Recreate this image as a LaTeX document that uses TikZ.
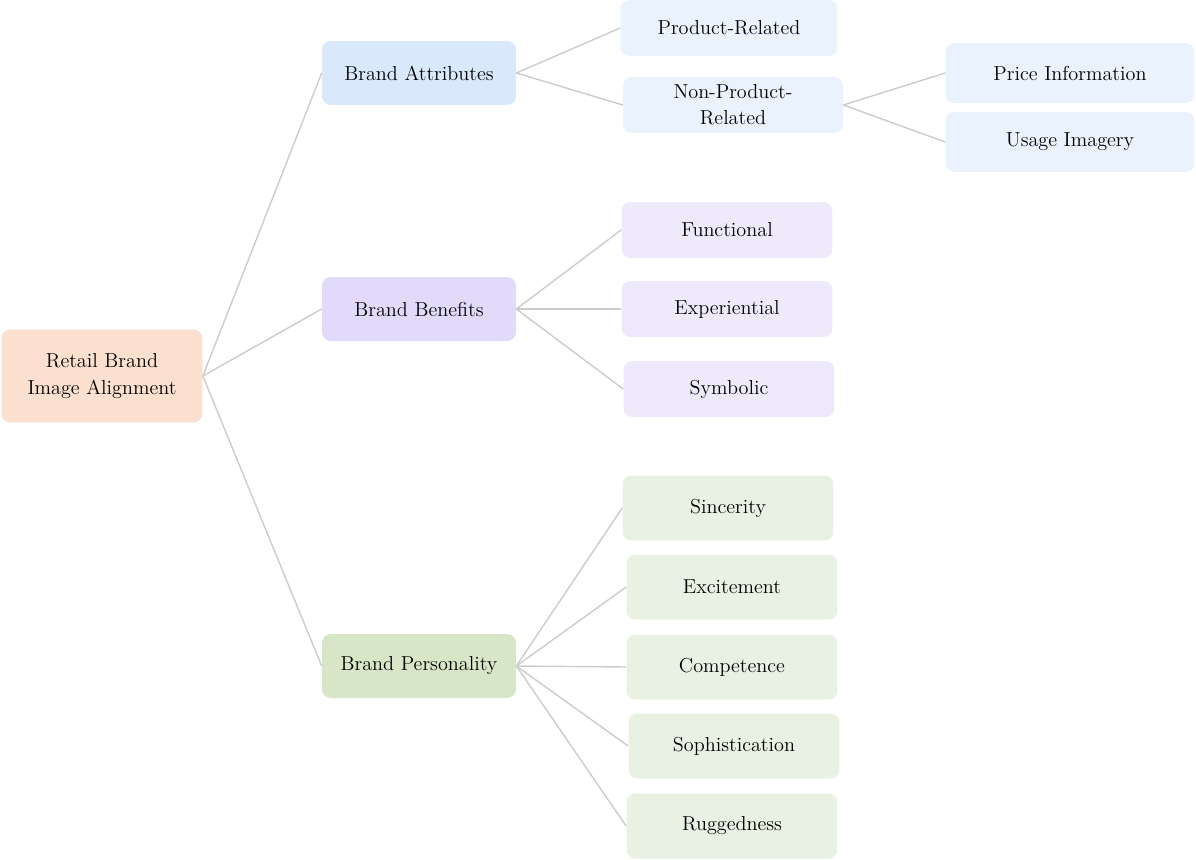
\documentclass[tikz,border=0pt]{standalone}
\usepackage{tikz}

\definecolor{rootfill}{HTML}{FBE0D0}
\definecolor{attrfill}{HTML}{D9E8FB}
\definecolor{attrleaf}{HTML}{EAF2FD}
\definecolor{benfill}{HTML}{E2DAFB}
\definecolor{benleaf}{HTML}{EEEAFC}
\definecolor{persfill}{HTML}{D8E6C8}
\definecolor{persleaf}{HTML}{E9F1E3}
\definecolor{linkgray}{HTML}{CCCCCC}

\begin{document}
\begin{tikzpicture}[x=0.02cm,y=-0.02cm,
  box/.style={rectangle,rounded corners=5pt,align=center,inner sep=0pt,
    font=\fontsize{11.5}{15}\selectfont},
  mainbox/.style={box,minimum width=3.88cm,minimum height=1.28cm},
  leafbox/.style={box,minimum width=4.22cm,minimum height=1.12cm},
  farbox/.style={box,minimum width=4.98cm,minimum height=1.2cm},
  link/.style={draw=linkgray,line width=0.8pt}]
\useasboundingbox (0,0) rectangle (1196,859);

% Root
\node[box,fill=rootfill,minimum width=4.02cm,minimum height=1.86cm] (root) at (102,376) {Retail Brand\\Image Alignment};

% Dimensions
\node[mainbox,fill=attrfill] (attr) at (419,73) {Brand Attributes};
\node[mainbox,fill=benfill] (ben) at (419,309) {Brand Benefits};
\node[mainbox,fill=persfill] (pers) at (419,666) {Brand Personality};

% Attributes
\node[leafbox,fill=attrleaf,minimum width=4.34cm] (prod) at (729,28) {Product-Related};
\node[leafbox,fill=attrleaf,minimum width=4.4cm] (nonprod) at (733,105) {Non-Product-\\Related};
\node[farbox,fill=attrleaf] (price) at (1070,73) {Price Information};
\node[farbox,fill=attrleaf] (usage) at (1070,142) {Usage Imagery};

% Benefits
\node[leafbox,fill=benleaf] (func) at (727,230) {Functional};
\node[leafbox,fill=benleaf] (exper) at (727,309) {Experiential};
\node[leafbox,fill=benleaf] (symb) at (729,389) {Symbolic};

% Personality
\node[leafbox,fill=persleaf,minimum height=1.3cm] (sinc) at (728,508) {Sincerity};
\node[leafbox,fill=persleaf,minimum height=1.3cm] (excit) at (732,587) {Excitement};
\node[leafbox,fill=persleaf,minimum height=1.3cm] (compet) at (732,667) {Competence};
\node[leafbox,fill=persleaf,minimum height=1.3cm] (soph) at (734,746) {Sophistication};
\node[leafbox,fill=persleaf,minimum height=1.3cm] (rugg) at (732,826) {Ruggedness};

% Links
\foreach \child in {attr,ben,pers}
  \draw[link] (root.east) -- (\child.west);
\foreach \child in {prod,nonprod}
  \draw[link] (attr.east) -- (\child.west);
\foreach \child in {price,usage}
  \draw[link] (nonprod.east) -- (\child.west);
\foreach \child in {func,exper,symb}
  \draw[link] (ben.east) -- (\child.west);
\foreach \child in {sinc,excit,compet,soph,rugg}
  \draw[link] (pers.east) -- (\child.west);
\end{tikzpicture}
\end{document}
